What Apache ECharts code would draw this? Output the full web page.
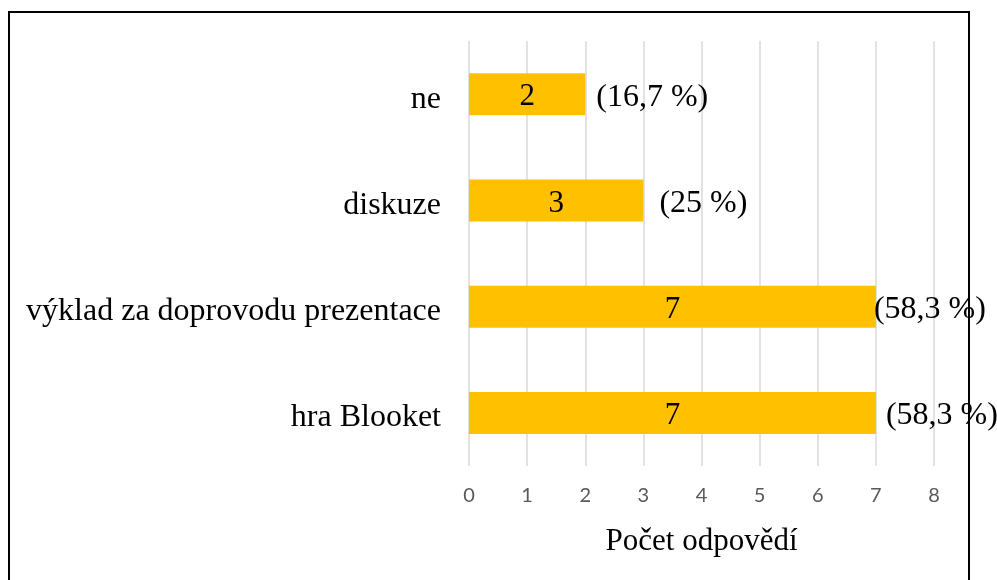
<!DOCTYPE html>
<html>
<head>
<meta charset="utf-8">
<script src="https://cdn.jsdelivr.net/npm/echarts@6/dist/echarts.min.js"></script>
<style>
html,body{margin:0;padding:0;background:#fff;}
#chart{width:997px;height:580px;}
</style>
</head>
<body>
<div id="chart"></div>
<script>
// bottom to top, as echarts lays out category y axis
var categories = ['hra Blooket', 'výklad za doprovodu prezentace', 'diskuze', 'ne'];
var counts = [7, 7, 3, 2];
var percents = ['58,3', '58,3', '25', '16,7'];
var xTicks = [0, 1, 2, 3, 4, 5, 6, 7, 8];
var labelGap = [10, -2, 16, 11];

var chart = echarts.init(document.getElementById('chart'));

var serif = '"Liberation Serif", "Times New Roman", serif';

var pctData = counts.map(function(v, i){
	return {
		value: v,
		label: { distance: labelGap[i], formatter: '(' + percents[i] + ' %)' }
	};
});

var option = {
	animation: false,
	grid: { left: 469, right: 63, top: 41, bottom: 114 },
	xAxis: {
		type: 'value',
		min: xTicks[0],
		max: xTicks[xTicks.length - 1],
		interval: 1,
		name: 'Počet odpovědí',
		nameLocation: 'middle',
		nameGap: 60,
		nameTextStyle: { fontFamily: serif, fontSize: 31, color: '#000' },
		axisLine: { show: false },
		axisTick: { show: false },
		axisLabel: { margin: 20, fontFamily: 'Lato, "Open Sans", sans-serif', fontSize: 20, color: '#595959' },
		splitLine: { lineStyle: { color: '#d9d9d9', width: 1.5 } }
	},
	yAxis: {
		type: 'category',
		data: categories,
		axisLine: { show: false },
		axisTick: { show: false },
		axisLabel: {
			margin: 28,
			formatter: function(v){ return '{c|' + v + '}'; },
			rich: { c: { fontFamily: serif, fontSize: 32, color: '#000', padding: [10, 0, 0, 0] } }
		}
	},
	series: [{
		type: 'bar',
		data: counts,
		barWidth: 42,
		itemStyle: { color: '#FFC000' },
		label: { show: true, position: 'inside', offset: [0, 3], fontFamily: serif, fontSize: 31, color: '#000' }
	}, {
		type: 'bar',
		data: pctData,
		barWidth: 42,
		barGap: '-100%',
		itemStyle: { color: 'rgba(0,0,0,0)' },
		label: { show: true, position: 'right', offset: [0, 3], fontFamily: serif, fontSize: 32, color: '#000' },
		silent: true
	}],
	graphic: [{
		type: 'rect',
		shape: { x: 9, y: 12, width: 960, height: 600 },
		style: { fill: null, stroke: '#000', lineWidth: 2 },
		z: 100
	}]
};
chart.setOption(option);
</script>
</body>
</html>
